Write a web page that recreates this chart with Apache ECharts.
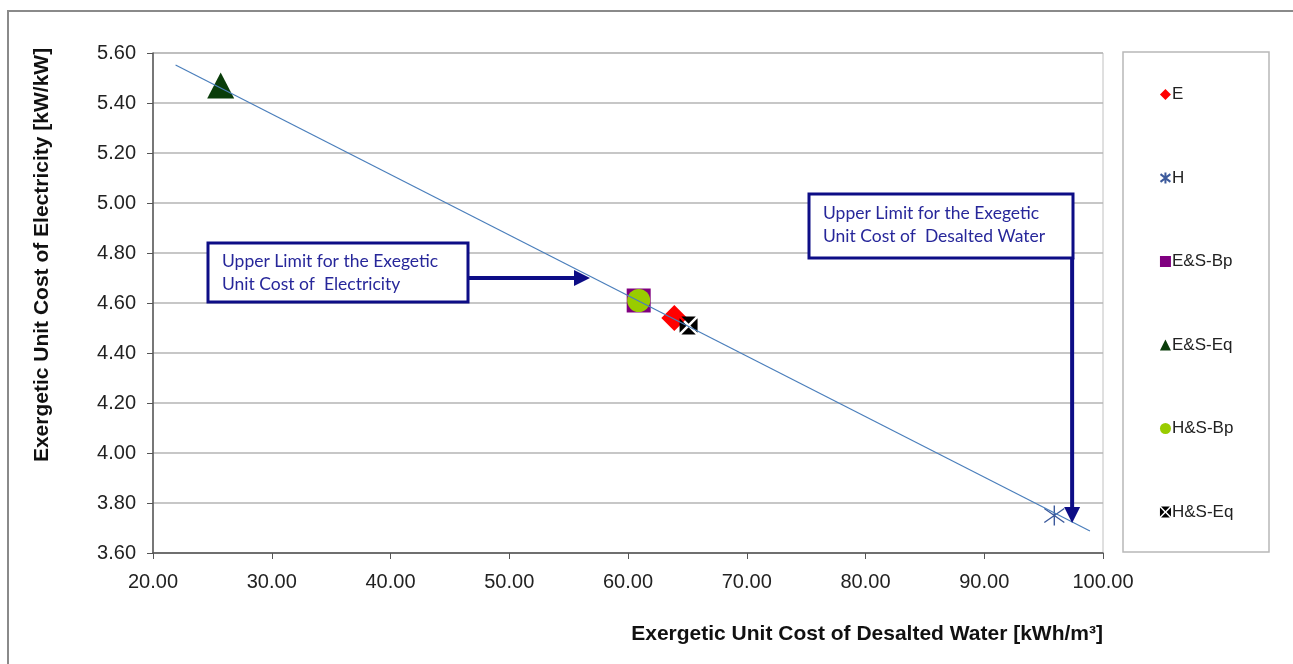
<!DOCTYPE html>
<html>
<head>
<meta charset="utf-8">
<script src="https://cdn.jsdelivr.net/npm/echarts@6/dist/echarts.min.js"></script>
<style>
  html, body { margin: 0; padding: 0; background: #fff; }
  #chart { width: 1293px; height: 664px; }
</style>
</head>
<body>
<div id="chart"></div>
<script>
// Configurations compared in the chart
const configNames = ['E', 'H', 'E&S-Bp', 'E&S-Eq', 'H&S-Bp', 'H&S-Eq'];
// Exergetic unit cost of desalted water [kWh/m³]
const waterCost = [63.9, 95.9, 60.9, 25.7, 60.9, 65.1];
// Exergetic unit cost of electricity [kW/kW]
const electricityCost = [4.54, 3.75, 4.61, 5.47, 4.61, 4.51];
// Linear trend line end points
const trendWater = [21.9, 98.9];
const trendElectricity = [5.552, 3.688];
// Axis ranges
const xRange = [20, 100, 10];
const yRange = [3.6, 5.6, 0.2];

const FONT = '"Liberation Sans", Arial, sans-serif';
const NOTE_FONT = 'Lato, "Open Sans", sans-serif';
const NAVY = '#0d0d86';

// Marker look for each configuration
const markerStyles = {
  'E':      { symbol: 'diamond', size: 26, color: '#ff0000' },
  'H':      { symbol: 'path://M10,0L10,20M1,3L19,17M1,17L19,3', size: 20, color: 'none', border: '#3c5a9c', bw: 1.4 },
  'E&S-Bp': { symbol: 'rect', size: 24, color: '#800080' },
  'E&S-Eq': { symbol: 'triangle', size: [27, 26], color: '#0a3d0a' },
  'H&S-Bp': { symbol: 'circle', size: 23, color: '#99cc00' },
  'H&S-Eq': { symbol: 'path://M2,0L18,0L10,8ZM20,2L20,18L12,10ZM2,20L18,20L10,12ZM0,2L0,18L8,10Z', size: 18, color: '#000000' }
};

const scatterSeries = configNames.map((name, i) => {
  const m = markerStyles[name];
  return {
    name: name,
    type: 'scatter',
    symbol: m.symbol,
    symbolSize: m.size,
    data: [[waterCost[i], electricityCost[i]]],
    itemStyle: {
      color: m.color,
      borderColor: m.border || undefined,
      borderWidth: m.bw || 0,
      opacity: 1
    },
    z: 3
  };
});

const chart = echarts.init(document.getElementById('chart'), null, { renderer: 'canvas' });

const option = {
  backgroundColor: '#ffffff',
  animation: false,
  grid: {
    left: 153, top: 53, right: 190, bottom: 111,
    show: true, borderColor: '#c0c0c0', borderWidth: 1, backgroundColor: 'transparent'
  },
  xAxis: {
    type: 'value',
    min: xRange[0], max: xRange[1], interval: xRange[2],
    name: 'Exergetic Unit Cost of Desalted Water [kWh/m³]',
    nameLocation: 'end',
    nameGap: 0,
    nameTextStyle: {
      fontFamily: FONT, fontSize: 21, fontWeight: 'bold', color: '#111',
      align: 'right', verticalAlign: 'top', padding: [71, 0, 0, 0]
    },
    axisLine: { show: true, lineStyle: { color: '#555', width: 1.5 } },
    axisTick: { show: true, inside: false, length: 6, lineStyle: { color: '#555' } },
    axisLabel: {
      fontFamily: FONT, fontSize: 20, color: '#222', margin: 19,
      formatter: v => v.toFixed(2)
    },
    splitLine: { show: false }
  },
  yAxis: {
    type: 'value',
    min: yRange[0], max: yRange[1], interval: yRange[2],
    axisLine: { show: true, lineStyle: { color: '#555', width: 1.5 } },
    axisTick: { show: true, inside: false, length: 6, lineStyle: { color: '#555' } },
    axisLabel: {
      fontFamily: FONT, fontSize: 20, color: '#222', margin: 17,
      formatter: v => v.toFixed(2)
    },
    splitLine: { show: true, lineStyle: { color: '#b4b4b4', width: 1.5 } }
  },
  legend: {
    orient: 'vertical',
    left: 1153,
    top: 81,
    data: configNames,
    itemWidth: 11,
    itemHeight: 11,
    itemGap: 66.5,
    textStyle: { fontFamily: FONT, fontSize: 17, color: '#222', padding: [0, 0, 0, -4] },
    selectedMode: false
  },
  series: scatterSeries.concat([{
    name: 'trend',
    type: 'line',
    data: trendWater.map((x, i) => [x, trendElectricity[i]]),
    showSymbol: false,
    symbol: 'none',
    lineStyle: { color: '#4a7ebb', width: 1.2 },
    z: 5,
    silent: true
  }])
};

chart.setOption(option);

// Annotation boxes and arrows, anchored in data coordinates
function px(x, y) { return chart.convertToPixel({ gridIndex: 0 }, [x, y]); }

function arrowHead(tip, dir) {
  // dir: 'right' or 'down'
  const L = 16, W = 8;
  if (dir === 'right') {
    return [[tip[0], tip[1]], [tip[0] - L, tip[1] - W], [tip[0] - L, tip[1] + W]];
  }
  return [[tip[0], tip[1]], [tip[0] - W, tip[1] - L], [tip[0] + W, tip[1] - L]];
}

const tip1 = px(56.8, 4.70);
const tip2 = px(97.4, 3.72);

const box1 = { x: 208, y: 243, w: 260, h: 59 };
const box2 = { x: 809, y: 194, w: 264, h: 64 };

const noteText = (x, y, text) => ({
  type: 'text', left: x, top: y, z: 20,
  style: { text: text, fontFamily: NOTE_FONT, fontSize: 17.5, fill: '#27279a', lineHeight: 23 }
});

chart.setOption({
  graphic: [
    // outer frame
    { type: 'rect', shape: { x: 8, y: 11, width: 1300, height: 680 }, style: { fill: 'none', stroke: '#8a8a8a', lineWidth: 2 }, z: 0, silent: true },
    // legend frame
    { type: 'rect', shape: { x: 1123, y: 52, width: 146, height: 500 }, style: { fill: 'none', stroke: '#b8b8b8', lineWidth: 1.5 }, z: 0, silent: true },
    // y axis title
    {
      type: 'text', x: 42, y: 255, rotation: Math.PI / 2, z: 20,
      style: {
        text: 'Exergetic Unit Cost of Electricity [kW/kW]',
        fontFamily: FONT, fontSize: 21, fontWeight: 'bold', fill: '#111',
        align: 'center', verticalAlign: 'middle'
      }
    },
    // box 1
    { type: 'rect', shape: { x: box1.x, y: box1.y, width: box1.w, height: box1.h }, style: { fill: '#ffffff', stroke: NAVY, lineWidth: 3 }, z: 10 },
    noteText(box1.x + 14, box1.y + 7, 'Upper Limit for the Exegetic\nUnit Cost of  Electricity'),
    { type: 'line', shape: { x1: box1.x + box1.w, y1: tip1[1], x2: tip1[0] - 12, y2: tip1[1] }, style: { stroke: NAVY, lineWidth: 4 }, z: 10 },
    { type: 'polygon', shape: { points: arrowHead(tip1, 'right') }, style: { fill: NAVY }, z: 10 },
    // box 2
    { type: 'rect', shape: { x: box2.x, y: box2.y, width: box2.w, height: box2.h }, style: { fill: '#ffffff', stroke: NAVY, lineWidth: 3 }, z: 10 },
    noteText(box2.x + 14, box2.y + 8, 'Upper Limit for the Exegetic\nUnit Cost of  Desalted Water'),
    { type: 'line', shape: { x1: tip2[0], y1: box2.y + box2.h, x2: tip2[0], y2: tip2[1] - 12 }, style: { stroke: NAVY, lineWidth: 4 }, z: 10 },
    { type: 'polygon', shape: { points: arrowHead(tip2, 'down') }, style: { fill: NAVY }, z: 10 }
  ]
});
</script>
</body>
</html>
